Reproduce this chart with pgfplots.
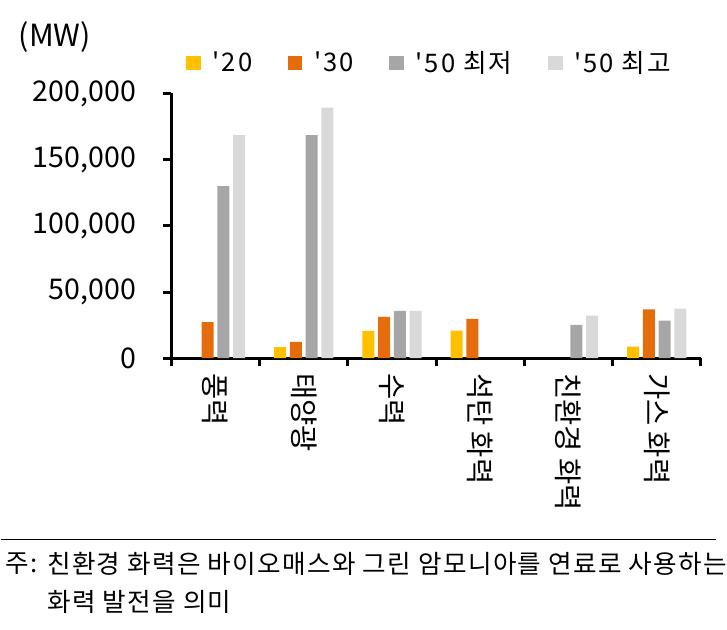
\documentclass[border=0pt]{standalone}
\usepackage{fontspec}
\setmainfont{Noto Sans CJK KR}
\newfontfamily\notefont[LetterSpace=5.2]{Noto Sans CJK KR}
\newfontfamily\legfont[LetterSpace=8]{Noto Sans CJK KR}
\usepackage{pgfplots}
\pgfplotsset{compat=1.18}
\definecolor{cA}{HTML}{FFC000}
\definecolor{cB}{HTML}{E46C0A}
\definecolor{cC}{HTML}{A6A6A6}
\definecolor{cD}{HTML}{D9D9D9}
\begin{document}
\begin{tikzpicture}
\path (0,0) rectangle (363.5pt,320pt);
\node[anchor=west, inner sep=0pt, font=\fontsize{15.5}{17}\selectfont] at (9pt,301pt) {(MW)};
\begin{axis}[
  at={(86.75pt,138pt)}, anchor=south west,
  scale only axis, width=269pt, height=134.5pt,
  ybar=2pt, bar width=6pt,
  every axis plot post/.append style={legend image code/.code={\fill[##1] (0pt,-3.75pt) rectangle (7.5pt,3.75pt);}},
  xmin=-0.5, xmax=5.5, ymin=0, ymax=200000,
  axis x line*=bottom, axis y line*=left,
  axis line style={line width=1.5pt, -},
  tick align=outside, major tick length=4pt,
  tick style={line width=1.5pt, black},
  ytick={0,50000,100000,150000,200000},
  scaled y ticks=false,
  yticklabel style={/pgf/number format/fixed, /pgf/number format/1000 sep={,}, font=\fontsize{14.5}{16}\selectfont},
  yticklabel shift=10.5pt,
  /pgf/number format/assume math mode=true,
  xtick={-0.5,0.5,1.5,2.5,3.5,4.5,5.5},
  x tick label as interval,
  xticklabels={풍력,태양광,수력,석탄 화력,친환경 화력,가스 화력},
  xticklabel style={rotate=-90, anchor=west, font=\fontsize{14.5}{16}\selectfont},
  legend style={at={(0.027,1.115)}, anchor=west, draw=none, fill=none, inner sep=0pt,
    font=\legfont\fontsize{13}{15}\selectfont, legend columns=-1,
    /tikz/every even column/.append style={column sep=16pt},
    /tikz/every odd column/.append style={column sep=4pt}},
  legend cell align=left,
]
\addplot[fill=cA, draw=none] coordinates {(1,8400) (2,20600) (3,20800) (5,8700)};
\addplot[fill=cB, draw=none] coordinates {(0,27300) (1,12400) (2,31200) (3,29700) (5,36900)};
\addplot[fill=cC, draw=none] coordinates {(0,130000) (1,168500) (2,35700) (4,25300) (5,28500)};
\addplot[fill=cD, draw=none] coordinates {(0,168500) (1,189300) (2,35700) (4,32200) (5,37400)};
\legend{'20,'30,'50 최저,'50 최고}
\end{axis}
\draw[line width=0.6pt] (0,46pt) -- (363.5pt,46pt);
\node[anchor=west, inner sep=0pt, font=\notefont\fontsize{13}{15}\selectfont] at (2.5pt,33.5pt) {주:};
\node[anchor=west, inner sep=0pt, font=\notefont\fontsize{13}{15}\selectfont] at (23.5pt,33.5pt) {친환경 화력은 바이오매스와 그린 암모니아를 연료로 사용하는};
\node[anchor=west, inner sep=0pt, font=\notefont\fontsize{13}{15}\selectfont] at (23.5pt,14pt) {화력 발전을 의미};
\end{tikzpicture}
\end{document}
